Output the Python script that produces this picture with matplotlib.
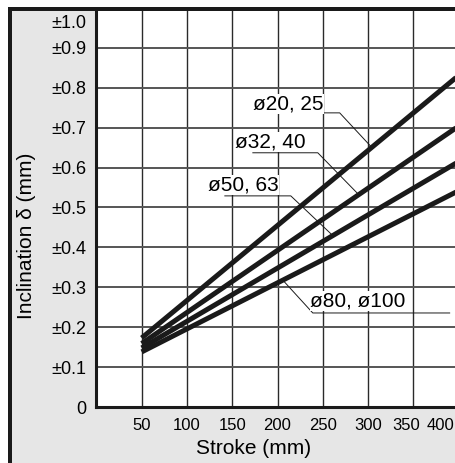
import matplotlib
matplotlib.use("Agg")
import matplotlib.pyplot as plt
from matplotlib.patches import Rectangle
import numpy as np

plt.rcParams["font.family"] = ["Liberation Sans", "DejaVu Sans"]

# Inclination vs stroke, one straight line per bore size
stroke = [50, 400]
incl_20_25 = [0.173, 0.831]
incl_32_40 = [0.159, 0.704]
incl_50_63 = [0.148, 0.615]
incl_80_100 = [0.138, 0.542]

series = [incl_20_25, incl_32_40, incl_50_63, incl_80_100]
labels = ["ø20, 25", "ø32, 40", "ø50, 63", "ø80, ø100"]

grid_x = [50, 100, 150, 200, 250, 300, 350, 400]
grid_y = [0.1, 0.2, 0.3, 0.4, 0.5, 0.6, 0.7, 0.8, 0.9]
ytick_labels = ["0", "±0.1", "±0.2", "±0.3", "±0.4", "±0.5",
                "±0.6", "±0.7", "±0.8", "±0.9", "±1.0"]
xtick_labels = ["50", "100", "150", "200", "250", "300", "350", "400"]

W, H = 456, 463
fig = plt.figure(figsize=(W / 100, H / 100), dpi=100)
fig.patch.set_facecolor("white")

# grey panel with heavy black edges on the left and top
fig.patches.append(Rectangle((8 / W, 0), 1, (H - 7) / H, transform=fig.transFigure,
                             facecolor="#e6e6e6", edgecolor="none", zorder=-5))
fig.patches.append(Rectangle((8 / W, 0), 4 / W, (H - 7) / H, transform=fig.transFigure,
                             facecolor="#1a1a1a", edgecolor="none", zorder=5))
fig.patches.append(Rectangle((8 / W, (H - 11) / H), 1, 4 / H, transform=fig.transFigure,
                             facecolor="#1a1a1a", edgecolor="none", zorder=5))

x0, x1 = 96.4, 456.0
y_top, y_bot = 10.7, 407.0
ax = fig.add_axes([x0 / W, (H - y_bot) / H, (x1 - x0) / W, (y_bot - y_top) / H])
ax.set_facecolor("white")
ax.set_xlim(0, 397)
ax.set_ylim(0, 0.993)

for gx in grid_x:
    ax.axvline(gx, color="#2a2a2a", lw=1.0, zorder=1)
for gy in grid_y:
    ax.axhline(gy, color="#555555", lw=1.4, zorder=1)

for vals in series:
    ax.plot(stroke, vals, color="#1a1a1a", lw=3.6, solid_capstyle="butt", zorder=3)

# labels with leader lines: text centre, underline ends, stroke where it meets the line
label_xy = [(212, 0.759), (191.5, 0.664), (162, 0.556), (289, 0.266)]
underline = [((182.6, 268.6), 0.737), ((172.7, 244.4), 0.637),
             ((141.8, 214.6), 0.529), ((390.0, 238.9), 0.2356)]
hit_x = [304, 289.6, 261, 205.8]
for vals, lab, (tx, ty), ((ua, ub), uy), hx in zip(series, labels, label_xy, underline, hit_x):
    hy = np.interp(hx, stroke, vals)
    ax.plot([ua, ub, hx], [uy, uy, hy], color="#1a1a1a", lw=0.7, zorder=4)
    ax.text(tx, ty, lab, fontsize=15, ha="center", va="center", zorder=4,
            bbox=dict(facecolor="white", edgecolor="none", pad=0.5))

ax.set_yticks([0, 0.1, 0.2, 0.3, 0.4, 0.5, 0.6, 0.7, 0.8, 0.9, 0.967])
ax.set_yticklabels(ytick_labels, fontsize=13)
ax.set_xticks([50, 100, 150, 200, 250, 300, 342, 380])
ax.set_xticklabels(xtick_labels, fontsize=12,
                   family=["Liberation Sans Narrow", "Liberation Sans"])
ax.tick_params(axis="y", length=0, pad=7)
ax.tick_params(axis="x", length=0, pad=8)

for side in ["top", "right"]:
    ax.spines[side].set_visible(False)
for side in ["left", "bottom"]:
    ax.spines[side].set_linewidth(2.2)
    ax.spines[side].set_color("#1a1a1a")

fig.text(253.5 / W, 1 - 448 / H, "Stroke (mm)", fontsize=15, ha="center", va="center")
fig.text(27 / W, 1 - 235.5 / H, "Inclination δ (mm)", fontsize=15,
         ha="center", va="center", rotation=90)

fig.savefig("out.png", dpi=100)
